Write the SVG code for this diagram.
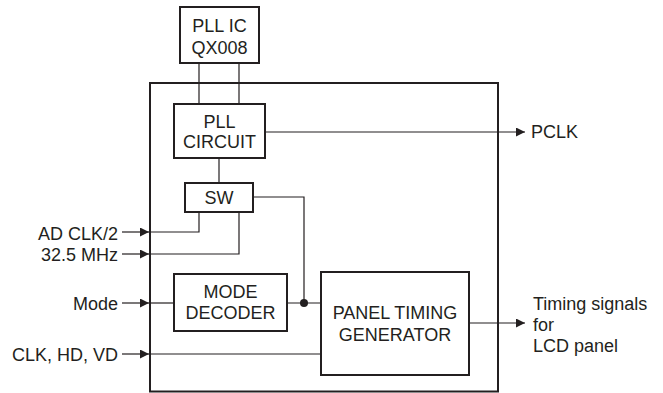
<svg xmlns="http://www.w3.org/2000/svg" width="663" height="393" viewBox="0 0 663 393">
<style>
.box{fill:#fff;stroke:#231f20;stroke-width:2}
.frame{fill:none;stroke:#231f20;stroke-width:2}
.ln{fill:none;stroke:#231f20;stroke-width:1.2}
text{font-family:"Liberation Sans",Arial,sans-serif;font-size:18px;fill:#231f20}
.c{text-anchor:middle}
.r{text-anchor:end}
</style>
<defs>
<marker id="ah" viewBox="0 0 10 10" refX="10" refY="5" markerWidth="9" markerHeight="9" markerUnits="userSpaceOnUse" orient="auto">
<path d="M0,0 L10,5 L0,10 Z" fill="#231f20"/>
</marker>
</defs>
<rect id="outer" class="frame" x="150" y="83" width="348" height="308.5"/>
<g id="connectors">
<path class="ln" d="M199,63 V104 M239,63 V104"/>
<path class="ln" d="M219,158 V183"/>
<path class="ln" d="M265,132 H525" marker-end="url(#ah)"/>
<path class="ln" d="M253,197 H304 V303"/>
<path class="ln" d="M287,303 H321"/>
<path class="ln" d="M469,323 H525" marker-end="url(#ah)"/>
<path class="ln" d="M122,232 H149" marker-end="url(#ah)"/>
<path class="ln" d="M149,232 H199 V212"/>
<path class="ln" d="M122,254 H149" marker-end="url(#ah)"/>
<path class="ln" d="M149,254 H239 V212"/>
<path class="ln" d="M122,303 H149" marker-end="url(#ah)"/>
<path class="ln" d="M149,303 H174"/>
<path class="ln" d="M122,354 H149" marker-end="url(#ah)"/>
<path class="ln" d="M149,354 H321"/>
<circle cx="304" cy="303" r="4" fill="#231f20"/>
</g>
<g id="pll-ic">
<rect class="box" x="180" y="7" width="79" height="56"/>
<text class="c" x="219.5" y="32">PLL IC</text>
<text class="c" x="219.5" y="54">QX008</text>
</g>
<g id="pll-circuit">
<rect class="box" x="174" y="104" width="91" height="54"/>
<text class="c" x="219.5" y="128">PLL</text>
<text class="c" x="219.5" y="148">CIRCUIT</text>
</g>
<g id="sw">
<rect class="box" x="185" y="183" width="68" height="29"/>
<text class="c" x="219" y="204">SW</text>
</g>
<g id="mode-decoder">
<rect class="box" x="174" y="274" width="113" height="57"/>
<text class="c" x="230.5" y="298">MODE</text>
<text class="c" x="230.5" y="319">DECODER</text>
</g>
<g id="panel-timing">
<rect class="box" x="321" y="272" width="148" height="103"/>
<text class="c" x="395" y="319">PANEL TIMING</text>
<text class="c" x="395" y="341">GENERATOR</text>
</g>
<g id="labels">
<text class="r" x="118" y="240">AD CLK/2</text>
<text class="r" x="118" y="261">32.5 MHz</text>
<text class="r" x="118" y="310">Mode</text>
<text class="r" x="118" y="361">CLK, HD, VD</text>
<text x="531" y="138">PCLK</text>
<text x="533" y="310">Timing signals</text>
<text x="533" y="331">for</text>
<text x="533" y="352">LCD panel</text>
</g>
</svg>
